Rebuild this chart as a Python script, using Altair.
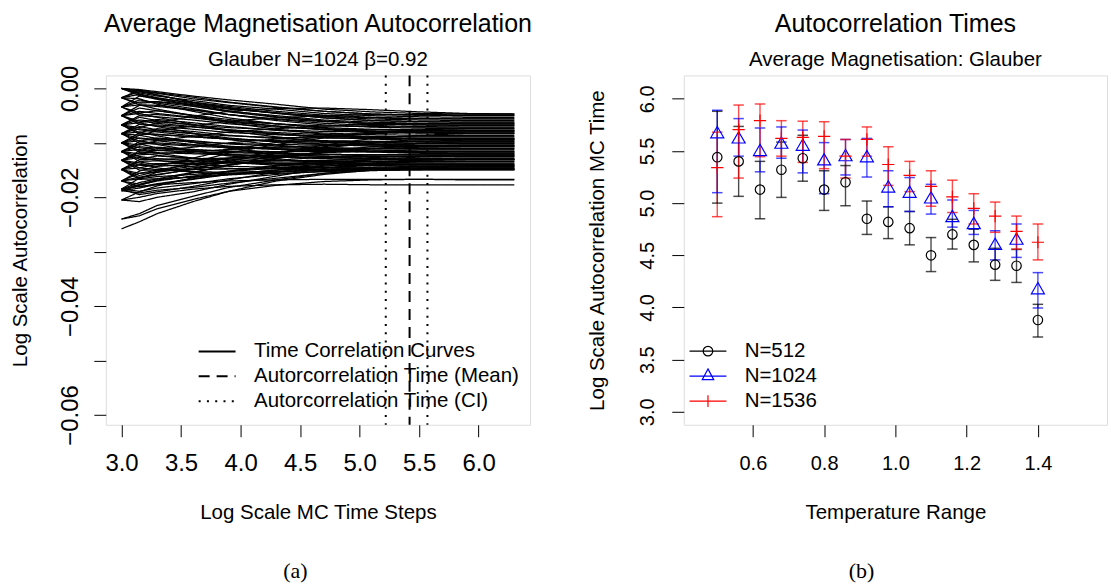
import altair as alt
import pandas as pd

FONT = "Liberation Sans"
SERIF = "Liberation Serif"

# ---------------- Panel (a): time-correlation curves ----------------
log_t = [3.0, 3.15, 3.3, 3.6, 3.9, 4.3, 4.7, 5.1, 5.5, 5.9, 6.3]
# values in units of 1e-3 (log-scale autocorrelation), one row per curve
curves_milli = [
    [0.0, -0.2, -0.6, -1.4, -2.1, -2.9, -3.8, -4.3, -4.6, -4.7, -4.7],
    [0.0, -0.5, -0.9, -1.9, -2.6, -3.5, -4.2, -4.7, -4.9, -5.0, -5.0],
    [0.0, -0.8, -1.4, -2.2, -3.1, -3.8, -4.6, -5.0, -5.2, -5.3, -5.3],
    [0.0, -0.4, -1.2, -2.5, -3.3, -4.2, -4.9, -5.3, -5.5, -5.6, -5.6],
    [0.0, -1.0, -1.7, -2.8, -3.7, -4.5, -5.2, -5.6, -5.8, -5.9, -5.9],
    [-1.7, -0.6, -1.2, -2.6, -3.6, -4.6, -5.4, -5.9, -6.1, -6.2, -6.2],
    [-1.7, -2.7, -2.5, -3.3, -4.2, -5.0, -5.8, -6.2, -6.4, -6.5, -6.5],
    [-1.7, -1.1, -1.9, -3.0, -4.1, -5.2, -6.0, -6.5, -6.7, -6.8, -6.8],
    [-1.7, -0.3, -0.8, -1.6, -2.5, -3.4, -4.2, -4.7, -4.9, -5.0, -5.0],
    [-1.7, -3.0, -3.1, -3.9, -4.8, -5.7, -6.4, -6.8, -7.0, -7.1, -7.1],
    [-3.4, -2.1, -2.7, -3.7, -4.8, -5.9, -6.7, -7.1, -7.3, -7.4, -7.4],
    [-3.4, -4.5, -4.1, -4.9, -5.7, -6.5, -7.2, -7.5, -7.6, -7.7, -7.7],
    [-3.4, -1.4, -1.8, -2.6, -3.5, -4.5, -5.4, -5.9, -6.1, -6.2, -6.2],
    [-3.4, -4.9, -4.8, -5.4, -6.2, -6.9, -7.5, -7.8, -8.0, -8.0, -8.0],
    [-3.4, -2.5, -2.4, -3.0, -3.8, -4.5, -5.1, -5.4, -5.6, -5.6, -5.6],
    [-5.0, -3.6, -4.1, -5.0, -6.0, -6.9, -7.6, -8.0, -8.2, -8.3, -8.3],
    [-5.0, -6.3, -5.7, -6.3, -7.0, -7.7, -8.2, -8.5, -8.6, -8.6, -8.6],
    [-5.0, -3.1, -3.3, -4.0, -4.8, -5.6, -6.1, -6.4, -6.5, -6.5, -6.5],
    [-5.0, -6.6, -6.7, -7.1, -7.6, -8.1, -8.5, -8.8, -8.9, -8.9, -8.9],
    [-5.0, -4.2, -4.6, -5.3, -6.0, -6.5, -6.9, -7.0, -7.1, -7.1, -7.1],
    [-5.0, -6.0, -6.4, -7.0, -7.7, -8.3, -8.8, -9.1, -9.2, -9.2, -9.2],
    [-6.7, -5.3, -5.9, -6.7, -7.6, -8.4, -9.0, -9.3, -9.5, -9.5, -9.5],
    [-6.7, -8.1, -7.4, -7.9, -8.6, -9.2, -9.6, -9.7, -9.8, -9.8, -9.8],
    [-6.7, -5.0, -5.2, -5.8, -6.5, -7.1, -7.5, -7.6, -7.7, -7.7, -7.7],
    [-6.7, -8.4, -8.5, -8.9, -9.3, -9.7, -9.9, -10.0, -10.1, -10.1, -10.1],
    [-6.7, -5.8, -6.1, -6.7, -7.2, -7.6, -7.9, -8.0, -8.0, -8.0, -8.0],
    [-6.7, -7.6, -8.0, -8.7, -9.3, -9.8, -10.2, -10.3, -10.4, -10.4, -10.4],
    [-8.3, -7.0, -7.6, -8.3, -9.1, -9.8, -10.3, -10.6, -10.7, -10.7, -10.7],
    [-8.3, -9.7, -9.1, -9.6, -10.2, -10.6, -10.9, -11.0, -11.0, -11.0, -11.0],
    [-8.3, -6.6, -6.9, -7.5, -8.1, -8.5, -8.8, -8.9, -8.9, -8.9, -8.9],
    [-8.3, -10.1, -10.2, -10.6, -10.9, -11.1, -11.2, -11.3, -11.3, -11.3, -11.3],
    [-8.3, -7.4, -7.8, -8.3, -8.7, -9.0, -9.1, -9.2, -9.2, -9.2, -9.2],
    [-8.3, -9.2, -9.6, -10.3, -10.8, -11.2, -11.4, -11.5, -11.6, -11.6, -11.6],
    [-10.0, -8.6, -9.2, -9.9, -10.6, -11.1, -11.5, -11.7, -11.8, -11.9, -11.9],
    [-10.0, -11.4, -10.8, -11.2, -11.6, -11.9, -12.1, -12.2, -12.2, -12.2, -12.2],
    [-10.0, -8.2, -8.4, -8.9, -9.3, -9.6, -9.7, -9.8, -9.8, -9.8, -9.8],
    [-10.0, -11.7, -11.8, -12.0, -12.2, -12.3, -12.4, -12.5, -12.5, -12.5, -12.5],
    [-10.0, -9.1, -9.4, -9.8, -10.1, -10.3, -10.4, -10.4, -10.4, -10.4, -10.4],
    [-10.0, -10.9, -11.3, -11.8, -12.2, -12.5, -12.7, -12.8, -12.8, -12.8, -12.8],
    [-11.6, -10.2, -10.9, -11.5, -12.1, -12.6, -12.9, -13.0, -13.1, -13.1, -13.1],
    [-11.6, -13.0, -12.4, -12.8, -13.1, -13.3, -13.4, -13.4, -13.4, -13.4, -13.4],
    [-11.6, -9.8, -10.0, -10.4, -10.7, -10.9, -11.0, -11.0, -11.0, -11.0, -11.0],
    [-11.6, -13.4, -13.3, -13.5, -13.6, -13.7, -13.7, -13.7, -13.7, -13.7, -13.7],
    [-11.6, -10.7, -11.0, -11.3, -11.5, -11.6, -11.6, -11.6, -11.6, -11.6, -11.6],
    [-11.6, -12.5, -12.9, -13.3, -13.6, -13.8, -13.9, -14.0, -14.0, -14.0, -14.0],
    [-13.2, -11.8, -12.3, -12.9, -13.5, -13.9, -14.1, -14.2, -14.3, -14.3, -14.3],
    [-13.2, -14.6, -13.9, -13.4, -12.8, -12.3, -11.8, -11.5, -11.3, -11.3, -11.3],
    [-13.2, -11.5, -11.4, -11.6, -11.8, -12.0, -12.1, -12.2, -12.2, -12.2, -12.2],
    [-13.2, -15.0, -15.0, -14.9, -14.8, -14.7, -14.6, -14.6, -14.6, -14.6, -14.6],
    [-13.2, -12.2, -12.0, -11.6, -11.2, -10.8, -10.5, -10.3, -10.1, -10.1, -10.1],
    [-13.2, -14.1, -14.3, -14.0, -13.6, -13.3, -13.2, -13.1, -13.1, -13.1, -13.1],
    [-14.9, -13.5, -14.0, -14.4, -14.7, -14.8, -14.9, -14.9, -14.9, -14.9, -14.9],
    [-14.9, -16.0, -15.2, -14.3, -13.2, -12.0, -10.9, -10.1, -9.7, -9.5, -9.5],
    [-14.9, -13.1, -13.0, -12.9, -12.8, -12.7, -12.6, -12.5, -12.5, -12.5, -12.5],
    [-14.9, -16.4, -15.9, -14.8, -13.4, -11.9, -10.4, -9.2, -8.6, -8.3, -8.3],
    [-14.9, -14.0, -13.8, -13.8, -13.7, -13.7, -13.7, -13.7, -13.7, -13.7, -13.7],
    [-14.9, -15.6, -15.4, -14.6, -13.6, -12.6, -11.7, -11.1, -10.8, -10.7, -10.7],
    [-17.0, -15.6, -15.0, -13.9, -12.8, -11.7, -10.7, -9.9, -9.4, -9.2, -9.2],
    [-17.0, -17.6, -16.8, -16.2, -15.7, -15.3, -15.1, -15.0, -14.9, -14.9, -14.9],
    [-17.0, -15.2, -14.3, -12.8, -11.3, -9.9, -8.8, -8.0, -7.6, -7.4, -7.4],
    [-17.0, -16.3, -15.8, -14.9, -14.0, -13.2, -12.6, -12.2, -12.0, -11.9, -11.9],
    [-17.0, -18.1, -17.5, -16.6, -15.7, -15.0, -14.5, -14.2, -14.0, -14.0, -14.0],
    [-18.5, -17.3, -16.6, -15.4, -14.1, -12.9, -11.8, -11.0, -10.6, -10.4, -10.4],
    [-18.5, -18.0, -17.7, -17.3, -17.0, -16.8, -16.7, -16.7, -16.7, -16.7, -16.7],
    [-18.5, -16.5, -15.4, -13.6, -11.9, -10.3, -9.1, -8.2, -7.8, -7.7, -7.7],
    [-18.5, -18.9, -18.3, -17.5, -16.6, -15.8, -15.2, -14.8, -14.7, -14.6, -14.6],
    [-18.5, -17.7, -17.0, -16.1, -15.2, -14.3, -13.6, -13.1, -12.9, -12.8, -12.8],
    [-20.5, -20.0, -19.3, -18.5, -18.0, -17.7, -17.6, -17.7, -17.7, -17.7, -17.7],
    [-20.5, -19.0, -17.9, -16.4, -15.2, -14.1, -13.3, -12.7, -12.4, -12.2, -12.2],
    [-18.8, -18.3, -17.6, -16.7, -15.8, -15.0, -14.3, -13.8, -13.5, -13.4, -13.4],
    [-18.8, -17.8, -16.9, -15.5, -14.1, -12.8, -11.6, -10.7, -10.1, -9.8, -9.8],
    [-24.0, -23.0, -21.5, -19.8, -18.2, -16.8, -15.6, -14.8, -14.4, -14.3, -14.3],
    [-25.8, -24.5, -23.0, -20.8, -18.9, -17.0, -15.8, -15.0, -14.6, -14.4, -14.4],
    [-24.0, -23.4, -22.1, -20.4, -18.9, -17.8, -17.1, -16.8, -16.7, -16.8, -16.8],
    [0.0, -1.3, -2.0, -3.2, -4.3, -5.3, -6.0, -6.5, -6.7, -6.8, -6.8],
    [-1.7, -1.9, -2.9, -4.2, -5.4, -6.5, -7.3, -7.9, -8.1, -8.2, -8.2],
    [-3.4, -3.0, -3.8, -5.0, -6.3, -7.5, -8.4, -9.0, -9.3, -9.4, -9.4],
    [-5.0, -4.6, -5.3, -6.6, -7.8, -8.9, -9.8, -10.3, -10.5, -10.6, -10.6],
    [-6.7, -6.3, -7.0, -8.2, -9.4, -10.4, -11.1, -11.6, -11.8, -11.9, -11.9],
    [-8.3, -8.0, -8.7, -9.9, -11.0, -11.9, -12.5, -12.9, -13.0, -13.0, -13.0],
    [-10.0, -9.6, -10.3, -11.4, -12.4, -13.1, -13.6, -13.9, -14.1, -14.1, -14.1],
    [-11.6, -11.2, -11.9, -12.8, -13.6, -14.1, -14.5, -14.7, -14.8, -14.8, -14.8],
    [-13.2, -12.7, -13.2, -13.9, -14.3, -14.5, -14.6, -14.7, -14.7, -14.7, -14.7],
    [-14.9, -14.6, -14.9, -15.3, -15.4, -15.2, -15.0, -14.9, -14.9, -14.9, -14.9],
    [-17.0, -16.6, -16.2, -15.8, -15.3, -14.6, -13.9, -13.4, -13.2, -13.1, -13.1],
    [-18.5, -19.5, -19.0, -18.0, -16.8, -15.4, -14.1, -13.1, -12.6, -12.4, -12.4],
    [-20.5, -20.8, -20.0, -19.0, -17.6, -16.1, -14.7, -13.7, -13.2, -13.0, -13.0],
    [-18.8, -19.2, -18.7, -18.2, -17.4, -16.5, -15.6, -15.1, -14.9, -14.8, -14.8],
    [-14.9, -16.7, -16.6, -16.3, -15.9, -15.4, -14.9, -14.5, -14.3, -14.2, -14.2],
    [-13.2, -13.7, -14.6, -15.4, -15.7, -15.6, -15.3, -15.0, -14.9, -14.9, -14.9],
    [-11.6, -12.0, -11.4, -10.8, -10.0, -9.3, -8.7, -8.3, -8.1, -8.0, -8.0],
    [-10.0, -10.4, -9.6, -8.8, -8.0, -7.4, -6.9, -6.6, -6.5, -6.5, -6.5],
    [-8.3, -8.6, -7.8, -6.9, -6.0, -5.4, -5.0, -4.8, -4.8, -4.7, -4.7],
    [-6.7, -7.2, -6.3, -5.1, -4.2, -3.7, -3.6, -3.9, -4.3, -4.6, -4.7],
]
tau_t = [5.42, 5.22, 5.57]
legend_a = ["Time Correlation Curves", "Autorcorrelation Time (Mean)", "Autorcorrelation Time (CI)"]
tau_kind = [legend_a[1], legend_a[2], legend_a[2]]
xticks_a = [3.0, 3.5, 4.0, 4.5, 5.0, 5.5, 6.0]
yticks_a = [0.0, -0.01, -0.02, -0.03, -0.04, -0.05, -0.06]

# ---------------- Panel (b): autocorrelation times ----------------
temps = [0.50, 0.56, 0.62, 0.68, 0.74, 0.80, 0.86, 0.92, 0.98, 1.04, 1.10, 1.16, 1.22, 1.28, 1.34, 1.40]
series = ["N=512", "N=1024", "N=1536"]
colors = ["#000000", "#0000ff", "#ff0000"]
mid_512 = [5.44, 5.40, 5.13, 5.32, 5.43, 5.13, 5.20, 4.85, 4.82, 4.76, 4.50, 4.70, 4.60, 4.41, 4.40, 3.88]
lo_512 = [5.00, 5.065, 4.85, 5.055, 5.21, 4.93, 4.975, 4.70, 4.66, 4.60, 4.344, 4.56, 4.437, 4.26, 4.24, 3.717]
hi_512 = [5.88, 5.735, 5.40, 5.585, 5.65, 5.31, 5.36, 5.02, 4.965, 4.92, 4.67, 4.845, 4.75, 4.567, 4.556, 4.03]
mid_1024 = [5.68, 5.63, 5.51, 5.58, 5.56, 5.42, 5.46, 5.45, 5.16, 5.11, 5.055, 4.876, 4.81, 4.61, 4.66, 4.185]
lo_1024 = [5.10, 5.45, 5.30, 5.43, 5.29, 5.09, 5.27, 5.25, 4.965, 4.92, 4.895, 4.77, 4.70, 4.456, 4.48, 3.995]
hi_1024 = [5.89, 5.81, 5.72, 5.73, 5.70, 5.58, 5.61, 5.62, 5.31, 5.245, 5.18, 5.03, 4.93, 4.735, 4.80, 4.334]
mid_1536 = [5.34, 5.705, 5.79, 5.62, 5.63, 5.64, 5.45, 5.61, 5.37, 5.265, 5.16, 5.06, 4.95, 4.876, 4.73, 4.625]
lo_1536 = [4.87, 5.24, 5.445, 5.45, 5.39, 5.33, 5.24, 5.45, 5.17, 5.11, 4.97, 4.91, 4.80, 4.72, 4.56, 4.456]
hi_1536 = [5.68, 5.94, 5.95, 5.79, 5.785, 5.78, 5.61, 5.73, 5.54, 5.40, 5.31, 5.22, 5.09, 5.01, 4.876, 4.80]
xticks_b = [0.6, 0.8, 1.0, 1.2, 1.4]
yticks_b = [3.0, 3.5, 4.0, 4.5, 5.0, 5.5, 6.0]

# ---------------- build tables ----------------
rows = []
for i, c in enumerate(curves_milli):
    for t, v in zip(log_t, c):
        rows.append({"t": t, "ac": v / 1000.0, "curve": i, "kind": legend_a[0]})
curves_df = pd.DataFrame(rows)
tau_df = pd.DataFrame({"t": tau_t, "kind": tau_kind})

mids = [mid_512, mid_1024, mid_1536]
los = [lo_512, lo_1024, lo_1536]
his = [hi_512, hi_1024, hi_1536]
brows = []
for s, m, l, h in zip(series, mids, los, his):
    for T, a, b, c in zip(temps, m, l, h):
        brows.append({"series": s, "temp": T, "mid": a, "lo": b, "hi": c})
b_df = pd.DataFrame(brows)

W_A, W_B, H = 425, 424, 350
GAP = 154
B_OFFSET = W_A + GAP  # panel (b) origin relative to panel (a) origin


def txt(s):
    return pd.DataFrame({"label": [s]})


# ---------------- panel (a) ----------------
xa = alt.Scale(domain=[2.868, 6.432], nice=False, zero=False)
ya = alt.Scale(domain=[-0.0618, 0.0024], nice=False, zero=False)
dash_scale = alt.Scale(domain=legend_a, range=[[1, 0], [11, 7], [2, 6.3]])

axis_x_a = alt.Axis(values=xticks_a, format=".1f", domain=False, grid=False,
                    tickSize=12, tickColor="black", tickWidth=1,
                    labelFont=FONT, labelFontSize=24, labelColor="black", labelPadding=15,
                    labelFlush=False, labelOverlap=False,
                    title="Log Scale MC Time Steps", titleFont=FONT, titleFontSize=20.5,
                    titleFontWeight="normal", titleColor="black",
                    titleX=W_A / 2, titleY=88, titleAlign="center", titleBaseline="middle")
axis_y_a = alt.Axis(values=yticks_a,
                    labelExpr="abs(round(datum.value*100)) % 2 == 0 ? format(datum.value, '.2f') : ''",
                    domain=False, grid=False, tickSize=12, tickColor="black", tickWidth=1,
                    labelFont=FONT, labelFontSize=24, labelColor="black", labelPadding=16,
                    labelAngle=270, labelAlign="center", labelBaseline="alphabetic",
                    labelFlush=False, labelOverlap=False,
                    title="Log Scale Autocorrelation", titleFont=FONT, titleFontSize=20.5,
                    titleFontWeight="normal", titleColor="black", titleAngle=270,
                    titleX=-85, titleY=H / 2, titleAlign="center", titleBaseline="middle")

# legend symbols drawn as paths twice the nominal symbol box, so rows stay compact
leg_a = alt.Legend(title=None, orient="none", legendX=101, legendY=266, padding=0,
                   symbolType="M-2,0L2,0", symbolSize=342, symbolStrokeWidth=2,
                   symbolStrokeColor="black", symbolFillColor="transparent",
                   symbolOpacity=1,
                   labelFont=FONT, labelFontSize=20.5,
                   labelColor="black", labelOffset=26.5, rowPadding=4, labelLimit=500)

curves = alt.Chart(curves_df).mark_line(color="black", strokeWidth=1.25).encode(
    x=alt.X("t:Q", scale=xa, axis=axis_x_a),
    y=alt.Y("ac:Q", scale=ya, axis=axis_y_a),
    detail="curve:N",
    strokeDash=alt.StrokeDash("kind:N", scale=dash_scale, legend=leg_a),
)
taus = alt.Chart(tau_df).mark_rule(color="black", strokeWidth=2).encode(
    x=alt.X("t:Q", scale=xa),
    strokeDash=alt.StrokeDash("kind:N", scale=dash_scale, legend=leg_a),
)


def label_layer(s, x, y, size, font=FONT):
    return alt.Chart(txt(s)).mark_text(font=font, fontSize=size, color="black",
                                       align="center", baseline="alphabetic").encode(
        text="label:N", x=alt.value(x), y=alt.value(y))


# invisible frame fixing the page extents (1111 x 586) around panel (a)'s origin
frame = alt.Chart(txt("")).mark_rule(opacity=0, strokeOpacity=0).encode(
    x=alt.value(-105), x2=alt.value(1006), y=alt.value(-74), y2=alt.value(512))

panel_a = alt.layer(
    curves, taus,
    label_layer("Average Magnetisation Autocorrelation", W_A / 2, -43, 25),
    label_layer("Glauber N=1024 \u03b2=0.92", W_A / 2, -9, 20.5),
    label_layer("(a)", 190, 504, 22, SERIF),
    frame,
).properties(width=W_A, height=H)

# ---------------- panel (b) ----------------
xb = alt.Scale(domain=[0.406, 1.594], nice=False, zero=False)
yb = alt.Scale(domain=[2.876, 6.224], nice=False, zero=False)

axis_x_b = alt.Axis(values=xticks_b, format=".1f", domain=False, grid=False,
                    tickSize=12, tickColor="black", tickWidth=1,
                    labelFont=FONT, labelFontSize=20, labelColor="black", labelPadding=17,
                    labelFlush=False, labelOverlap=False,
                    title="Temperature Range", titleFont=FONT, titleFontSize=20.5,
                    titleFontWeight="normal", titleColor="black",
                    titleX=W_B / 2, titleY=88, titleAlign="center", titleBaseline="middle")
axis_y_b = alt.Axis(values=yticks_b, format=".1f", domain=False, grid=False,
                    tickSize=12, tickColor="black", tickWidth=1,
                    labelFont=FONT, labelFontSize=20, labelColor="black", labelPadding=18,
                    labelAngle=270, labelAlign="center", labelBaseline="alphabetic",
                    labelFlush=False, labelOverlap=False,
                    title="Log Scale Autocorrelation MC Time", titleFont=FONT, titleFontSize=20.5,
                    titleFontWeight="normal", titleColor="black", titleAngle=270,
                    titleX=-86, titleY=H / 2, titleAlign="center", titleBaseline="middle")

marker_shapes = ["circle", "triangle-up", "M-1,0L1,0M0,-1L0,1"]
marker_sizes = [90, 170, 150]
legend_paths = [
    "M-2,0L2,0M0.52,0A0.52,0.52 0 1,1 -0.52,0A0.52,0.52 0 1,1 0.52,0",
    "M-2,0L2,0M0,-0.78L0.62,0.38L-0.62,0.38Z",
    "M-2,0L2,0M0,-0.64L0,0.64",
]
CAP = "M-1,0L1,0"

bar_layers, cap_layers, mark_layers = [], [], []
for k, (s, col, shp, sz) in enumerate(zip(series, colors, marker_shapes, marker_sizes)):
    base = alt.Chart(b_df).transform_filter(alt.datum.series == s)
    if k == 0:
        xenc = alt.X("temp:Q", scale=xb, axis=axis_x_b)
        yenc = alt.Y("lo:Q", scale=yb, axis=axis_y_b)
    else:
        xenc = alt.X("temp:Q", scale=xb)
        yenc = alt.Y("lo:Q", scale=yb)
    bar_layers.append(base.mark_rule(color=col, opacity=0.7, strokeWidth=1.4).encode(
        x=xenc, y=yenc, y2="hi:Q"))
    for fld in ["lo", "hi"]:
        cap_layers.append(base.mark_point(shape=CAP, size=110, filled=False, color=col,
                                          opacity=0.7, strokeWidth=1.5).encode(
            x=alt.X("temp:Q", scale=xb), y=alt.Y(f"{fld}:Q", scale=yb)))
    mark_layers.append(base.mark_point(shape=shp, size=sz, filled=False, color=col,
                                       opacity=1, strokeWidth=1.2).encode(
        x=alt.X("temp:Q", scale=xb), y=alt.Y("mid:Q", scale=yb)))

leg_b = alt.Legend(title=None, orient="none", legendX=B_OFFSET + 14, legendY=266, padding=0,
                   symbolSize=342, symbolStrokeWidth=1.2, symbolFillColor="transparent",
                   symbolOpacity=1,
                   labelFont=FONT, labelFontSize=20.5, labelColor="black",
                   labelOffset=26.5, rowPadding=4, labelLimit=500)
legend_layer = alt.Chart(b_df).transform_filter("false").mark_point(
    filled=False, strokeWidth=1.2, opacity=1).encode(
    x=alt.X("temp:Q", scale=xb), y=alt.Y("mid:Q", scale=yb),
    color=alt.Color("series:N", scale=alt.Scale(domain=series, range=colors), legend=leg_b),
    shape=alt.Shape("series:N", scale=alt.Scale(domain=series, range=legend_paths), legend=leg_b),
)

panel_b = alt.layer(
    *bar_layers, *cap_layers, *mark_layers, legend_layer,
    label_layer("Autocorrelation Times", W_B / 2, -43, 25),
    label_layer("Average Magnetisation: Glauber", W_B / 2, -9, 20.5),
    label_layer("(b)", 178, 504, 22, SERIF),
).properties(width=W_B, height=H)

chart = alt.hconcat(panel_a, panel_b, spacing=GAP, bounds="flush").properties(
    padding={"left": 0, "top": 0, "right": 0, "bottom": 0}
).configure_view(stroke="black", strokeWidth=1).configure(background="white")

chart.save("out.html", embed_options={"renderer": "svg", "actions": False})
